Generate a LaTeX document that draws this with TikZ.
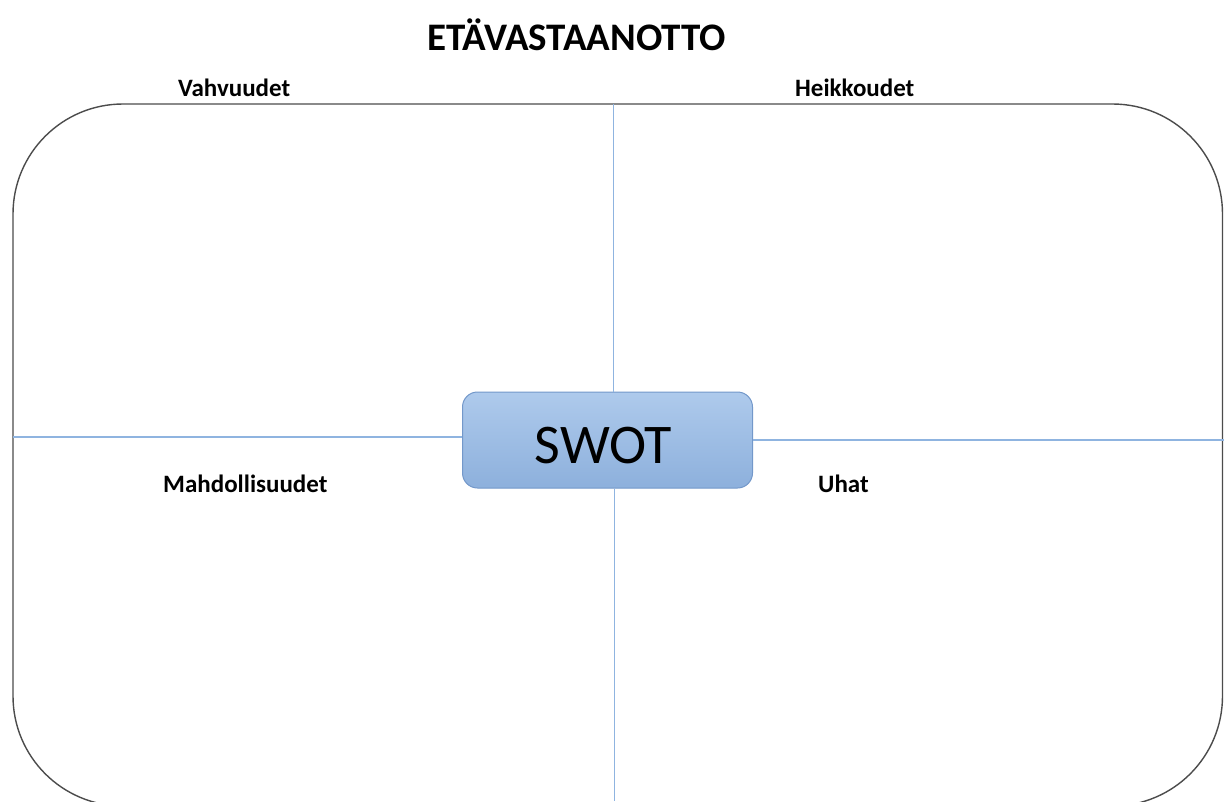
\documentclass[tikz,border=0pt]{standalone}
\usepackage{fontspec}
\setmainfont{Carlito}
\begin{document}
\begin{tikzpicture}[x=1pt,y=-1pt,
  frame/.style={draw=black!70, line width=1.4pt, rounded corners=110pt},
  axis/.style={draw=axisblue, line width=1.2pt},
  label/.style={font=\bfseries\fontsize{25}{28}\selectfont, anchor=base west, inner sep=0pt},
  swotbox/.style={draw=swotedge, line width=1pt, rounded corners=15pt, top color=swottop, bottom color=swotbot,
    minimum width=290pt, minimum height=96pt, inner sep=0pt}
]
\definecolor{axisblue}{HTML}{8FB4E0}
\definecolor{swotedge}{HTML}{7398CA}
\definecolor{swottop}{HTML}{AECAEC}
\definecolor{swotbot}{HTML}{8DB0DC}
\useasboundingbox (0,0) rectangle (1224,801);
\clip (0,0) rectangle (1224,801);
\fill[white] (0,0) rectangle (1224,801);
% frame
\draw[frame] (13,104) rectangle (1222.5,806);
% axes
\coordinate (vtop) at (613.5,104);
\coordinate (vbot) at (614.5,801);
\coordinate (hleft) at (13,437);
\coordinate (hright) at (1224,440);
\node[swotbox] (swot) at (607.5,440) {};
\draw[axis] (vtop) -- (swot.north -| vtop);
\draw[axis] (swot.south -| vbot) -- (vbot);
\draw[axis] (hleft) -- (swot.west |- hleft);
\draw[axis] (swot.east |- hright) -- (hright);
\node[anchor=base, inner sep=0pt, font=\fontsize{56}{60}\selectfont] (swottext) at (603.5,463) {SWOT};
% title
\node[anchor=base west, inner sep=0pt, font=\bfseries\fontsize{39}{42}\selectfont] (title) at (427,50) {ETÄVASTAANOTTO};
% labels
\node[label] (s) at (178,96) {Vahvuudet};
\node[label] (w) at (795,96) {Heikkoudet};
\node[label] (o) at (163,492) {Mahdollisuudet};
\node[label] (t) at (818,492) {Uhat};
\end{tikzpicture}
\end{document}
